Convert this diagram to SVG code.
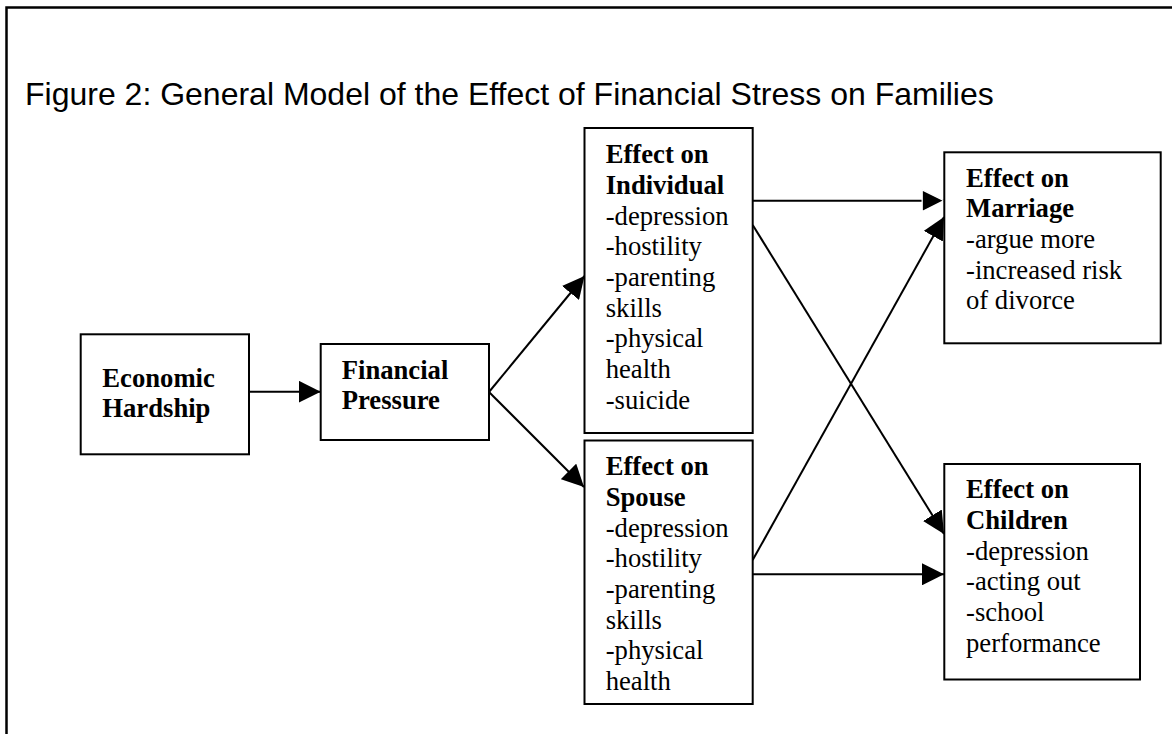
<svg xmlns="http://www.w3.org/2000/svg" width="1172" height="734" viewBox="0 0 1172 734">
<style>
.box{fill:#fff;stroke:#000;stroke-width:2}
.t{font-family:"Liberation Serif","Times New Roman",serif;font-size:26.67px;fill:#000}
.b{font-weight:bold}
.title{font-family:"Liberation Sans",Arial,sans-serif;font-size:32px;fill:#000}
.c{stroke:#000;stroke-width:2;fill:none}
</style>
<defs>
<marker id="ah" markerUnits="userSpaceOnUse" markerWidth="22" markerHeight="22" viewBox="0 0 20 20" refX="20" refY="10" orient="auto">
<path d="M0,0 L20,10 L0,20 Z" fill="#000"/>
</marker>
<marker id="ahw" markerUnits="userSpaceOnUse" markerWidth="24" markerHeight="24" viewBox="-1 -1 22 22" refX="20" refY="10" orient="auto">
<path d="M0,0 L20,10 L0,20 Z" fill="#000" stroke="#fff" stroke-width="1.2"/>
</marker>
</defs>
<rect width="1172" height="734" fill="#fff"/>
<path d="M6.5,734 V7.5 H1172" fill="none" stroke="#000" stroke-width="2.5"/>
<text class="title" x="25" y="105">Figure 2: General Model of the Effect of Financial Stress on Families</text>

<g id="connectors">
<line class="c" x1="249" y1="391.7" x2="320.7" y2="391.7" marker-end="url(#ah)"/>
<line class="c" x1="489" y1="392" x2="584.5" y2="276" marker-end="url(#ah)"/>
<line class="c" x1="489" y1="392" x2="584" y2="487" marker-end="url(#ah)"/>
<line class="c" x1="752.7" y1="225" x2="944" y2="534" marker-end="url(#ah)"/>
<line class="c" x1="752.7" y1="560" x2="944" y2="217" marker-end="url(#ah)"/>
<line class="c" x1="752.7" y1="574.3" x2="944" y2="574.3" marker-end="url(#ah)"/>
<line class="c" x1="752.7" y1="200.7" x2="944" y2="200.7" marker-end="url(#ahw)"/>
</g>

<g id="economic-hardship">
<rect class="box" x="80.7" y="334.3" width="168.3" height="120"/>
<text class="t b" x="102.3" y="386.7">Economic</text>
<text class="t b" x="102.3" y="416.7">Hardship</text>
</g>

<g id="financial-pressure">
<rect class="box" x="320.7" y="344" width="168.3" height="96"/>
<text class="t b" x="341.7" y="379.3">Financial</text>
<text class="t b" x="341.7" y="409.3">Pressure</text>
</g>

<g id="effect-individual">
<rect class="box" x="584.5" y="128" width="168.2" height="305"/>
<text class="t" x="605.7"><tspan class="b" x="605.7" y="163.3">Effect on</tspan><tspan class="b" x="605.7" y="194">Individual</tspan><tspan x="605.7" y="224.6">-depression</tspan><tspan x="605.7" y="255.3">-hostility</tspan><tspan x="605.7" y="286">-parenting</tspan><tspan x="605.7" y="316.6">skills</tspan><tspan x="605.7" y="347.3">-physical</tspan><tspan x="605.7" y="378">health</tspan><tspan x="605.7" y="408.7">-suicide</tspan></text>
</g>

<g id="effect-spouse">
<rect class="box" x="584.5" y="440.5" width="168.2" height="263.5"/>
<text class="t" x="605.7"><tspan class="b" x="605.7" y="475.3">Effect on</tspan><tspan class="b" x="605.7" y="506">Spouse</tspan><tspan x="605.7" y="536.6">-depression</tspan><tspan x="605.7" y="567.3">-hostility</tspan><tspan x="605.7" y="598">-parenting</tspan><tspan x="605.7" y="628.6">skills</tspan><tspan x="605.7" y="659.3">-physical</tspan><tspan x="605.7" y="690">health</tspan></text>
</g>

<g id="effect-marriage">
<rect class="box" x="944.3" y="152.3" width="216.4" height="191"/>
<text class="t" x="966"><tspan class="b" x="966" y="186.7">Effect on</tspan><tspan class="b" x="966" y="217.3">Marriage</tspan><tspan x="966" y="248">-argue more</tspan><tspan x="966" y="278.7">-increased risk</tspan><tspan x="966" y="309.3">of divorce</tspan></text>
</g>

<g id="effect-children">
<rect class="box" x="944.3" y="464" width="195.7" height="215.5"/>
<text class="t" x="966"><tspan class="b" x="966" y="498.3">Effect on</tspan><tspan class="b" x="966" y="529">Children</tspan><tspan x="966" y="559.6">-depression</tspan><tspan x="966" y="590.3">-acting out</tspan><tspan x="966" y="621">-school</tspan><tspan x="966" y="651.6">performance</tspan></text>
</g>
</svg>
